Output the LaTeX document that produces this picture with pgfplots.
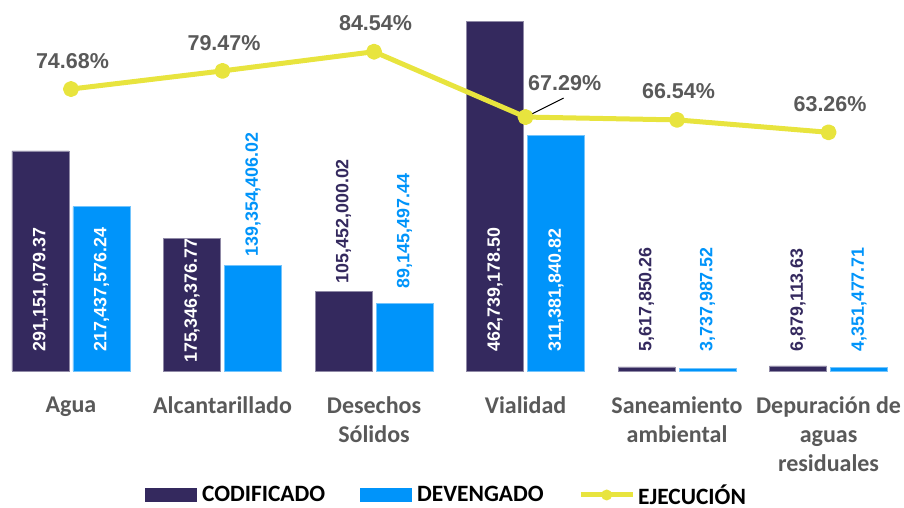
\documentclass[border=0pt]{standalone}
\usepackage{fontspec}
\setmainfont{Carlito}
\newfontfamily\arialf{Liberation Sans}
\usepackage{pgfplots}
\pgfplotsset{compat=1.18}
\definecolor{navy}{HTML}{34295E}
\definecolor{bblue}{HTML}{0094FA}
\definecolor{yel}{HTML}{E8E43E}
\definecolor{gtext}{HTML}{595959}
\begin{document}
\begin{tikzpicture}
\begin{axis}[
  width=904pt, height=371pt, scale only axis,
  xmin=-0.4686, xmax=5.498, ymin=0, ymax=490.9,
  hide y axis,
  axis x line*=bottom, x axis line style={draw=none},
  xtick={0,1,2,3,4,5}, major tick length=0pt,
  xticklabels={Agua, Alcantarillado, {Desechos\\Sólidos}, Vialidad, {Saneamiento\\ambiental}, {Depuración de\\aguas\\residuales}},
  xticklabel style={font=\fontsize{24}{29}\selectfont\bfseries, text=gtext, align=center, anchor=north, inner sep=0pt, yshift=-25.7pt},
  clip=false,
  legend columns=3,
  legend style={at={(0.4939,-0.3342)}, anchor=center, draw=none, fill=none,
    font=\fontsize{23.4}{26}\selectfont\bfseries, inner sep=0pt,
    nodes={inner sep=2.5pt},
    /tikz/every even column/.append style={column sep=32pt}},
]
\coordinate (tl) at (rel axis cs:0,1);
\addplot[ybar, bar width=57pt, bar shift=-30.5pt, fill=navy, draw=navy!55!white, line width=0.5pt,
  legend image code/.code={\fill[navy, draw=none] (0pt,-7pt) rectangle (52pt,7pt); \path[draw=none, fill=none] (0pt,0pt) -- (55pt,0pt);}]
  coordinates {(0,291.151) (1,175.346) (2,105.452) (3,462.739) (4,5.618) (5,6.879)};
\addlegendentry{CODIFICADO}
\addplot[ybar, bar width=57pt, bar shift=30.5pt, fill=bblue, draw=bblue!55!white, line width=0.5pt,
  legend image code/.code={\fill[bblue, draw=none] (0pt,-7pt) rectangle (52pt,7pt); \path[draw=none, fill=none] (0pt,0pt) -- (55pt,0pt);}]
  coordinates {(0,217.438) (1,139.354) (2,89.145) (3,311.382) (4,3.738) (5,4.351)};
\addlegendentry{DEVENGADO}
\addlegendimage{legend image code/.code={\draw[yel, line width=5pt] (0pt,0pt) -- (52pt,0pt); \fill[yel, draw=none] (26pt,0pt) circle (5.5pt); \path[draw=none, fill=none] (0pt,0pt) -- (55pt,0pt);}}
\addlegendentry{EJECUCIÓN}
% inside labels (white)
\addplot[draw=none, mark=none, forget plot, nodes near coords, point meta=explicit symbolic,
  nodes near coords style={rotate=90, anchor=west, inner sep=0pt, text=white, font=\arialf\bfseries\fontsize{17.85}{20}\selectfont}]
  coordinates {(-0.2013,25.1)[291,151,079.37] (0.7987,10.6)[175,346,376.77] (2.7987,25.1)[462,739,178.50]
               (0.2013,25.1)[217,437,576.24] (3.2013,25.1)[311,381,840.82]};
% outside labels navy
\addplot[draw=none, mark=none, forget plot, nodes near coords, point meta=explicit symbolic,
  nodes near coords style={rotate=90, anchor=west, inner sep=0pt, text=navy, font=\arialf\bfseries\fontsize{17.85}{20}\selectfont}]
  coordinates {(1.7987,116.0)[105,452,000.02] (3.7987,25.5)[5,617,850.26] (4.7987,25.5)[6,879,113.63]};
% outside labels blue
\addplot[draw=none, mark=none, forget plot, nodes near coords, point meta=explicit symbolic,
  nodes near coords style={rotate=90, anchor=west, inner sep=0pt, text=bblue, font=\arialf\bfseries\fontsize{17.85}{20}\selectfont}]
  coordinates {(1.2013,151.2)[139,354,406.02] (2.2013,109.4)[89,145,497.44] (4.2013,25.5)[3,737,987.52] (5.2013,25.5)[4,351,477.71]};
\end{axis}
\begin{axis}[
  width=904pt, height=371pt, scale only axis,
  xmin=-0.4686, xmax=5.498, ymin=0.25, ymax=98.19,
  hide axis, clip=false,
]
\addplot[yel, line width=5pt, line join=round, mark=*, mark size=5.5pt, mark options={fill=yel, draw=none}]
  coordinates {(0,74.68) (1,79.47) (2,84.54) (3,67.29) (4,66.54) (5,63.26)};
\addplot[draw=none, mark=none, nodes near coords, point meta=explicit symbolic,
  nodes near coords style={anchor=south, inner sep=0pt, xshift=1.5pt, yshift=20.5pt, text=gtext, font=\arialf\bfseries\fontsize{21.5}{24}\selectfont}]
  coordinates {(0,74.68)[74.68\%] (1,79.47)[79.47\%] (2,84.54)[84.54\%] (4,66.54)[66.54\%] (5,63.26)[63.26\%]};
\addplot[draw=none, mark=none, nodes near coords, point meta=explicit symbolic,
  nodes near coords style={anchor=south west, inner sep=0pt, xshift=2.5pt, yshift=26pt, text=gtext, font=\arialf\bfseries\fontsize{21.5}{24}\selectfont}]
  coordinates {(3,67.29)[67.29\%]};
\draw[black, line width=1pt] (axis cs:3,67.29) ++(2pt,1pt) -- ++(36pt,18pt);
\end{axis}
\pgfresetboundingbox
\path[use as bounding box] (tl) rectangle ++(904pt,-507pt);
\end{tikzpicture}
\end{document}
